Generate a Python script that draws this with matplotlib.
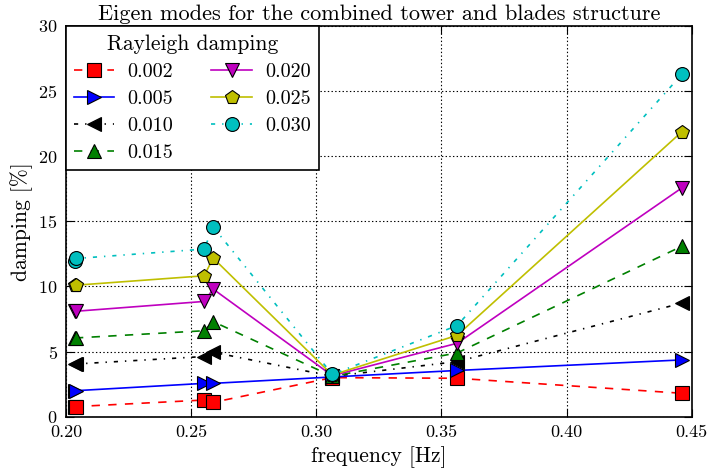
import numpy as np
import matplotlib
matplotlib.use('Agg')
import matplotlib.pyplot as plt

plt.rcParams['font.family'] = 'serif'
plt.rcParams['font.serif'] = ['cmr10', 'DejaVu Serif']
plt.rcParams['axes.formatter.use_mathtext'] = True
plt.rcParams['mathtext.fontset'] = 'cm'
# old-style dash patterns
plt.rcParams['lines.scale_dashes'] = False
plt.rcParams['lines.dashed_pattern'] = [6, 6]
plt.rcParams['lines.dashdot_pattern'] = [3, 5, 1, 5]

# eigen frequencies [Hz]
freq = [0.2036, 0.2042, 0.2552, 0.2588, 0.3064, 0.3563, 0.4460]

# damping [%] per Rayleigh damping coefficient
damp_0002 = [0.75, 0.78, 1.28, 1.10, 3.00, 2.95, 1.80]
damp_0005 = [2.00, 2.00, 2.56, 2.56, 3.05, 3.55, 4.36]
damp_0010 = [4.05, 4.05, 4.62, 4.95, 3.10, 4.23, 8.72]
damp_0015 = [6.03, 6.05, 6.60, 7.30, 3.10, 4.90, 13.08]
damp_0020 = [8.08, 8.10, 8.85, 9.80, 3.15, 5.64, 17.56]
damp_0025 = [10.08, 10.10, 10.82, 12.18, 3.20, 6.25, 21.87]
damp_0030 = [11.95, 12.15, 12.87, 14.57, 3.25, 7.00, 26.28]

labels = ['0.002', '0.005', '0.010', '0.015', '0.020', '0.025', '0.030']
series = [damp_0002, damp_0005, damp_0010, damp_0015, damp_0020, damp_0025, damp_0030]

colors = ['r', 'b', 'k', (0, 0.5, 0), (0.75, 0, 0.75), (0.75, 0.75, 0), (0, 0.75, 0.75)]
styles = ['--', '-', '-.', '--', '-', '-', '-.']
markers = ['s', '>', '<', '^', 'v', 'p', 'o']

fig = plt.figure(figsize=(7.08, 4.71), dpi=100)
ax = fig.add_axes([0.0932, 0.1153, 0.8838, 0.8295])

for y, lab, c, ls, m in zip(series, labels, colors, styles, markers):
    ax.plot(freq, y, linestyle=ls, color=c, marker=m, markersize=10,
            markeredgecolor='k', markeredgewidth=0.8, markerfacecolor=c,
            linewidth=1.2, label=lab)

ax.set_xlim(0.20, 0.45)
ax.set_ylim(0, 30)
ax.set_xticks(np.arange(0.20, 0.451, 0.05))
ax.set_xticklabels(['0.20', '0.25', '0.30', '0.35', '0.40', '0.45'])
ax.set_yticks([0, 5, 10, 15, 20, 25, 30])
ax.tick_params(direction='in', top=True, right=True, labelsize=13, length=6, pad=6)
ax.grid(True, color='k', linestyle=':', linewidth=0.8)
for s in ax.spines.values():
    s.set_linewidth(1.2)

ax.set_xlabel('frequency [Hz]', fontsize=15.5, labelpad=4)
ax.set_ylabel('damping [%]', fontsize=15.5, labelpad=4)
ax.set_title('Eigen modes for the combined tower and blades structure', fontsize=16, pad=4)

leg = ax.legend(loc='upper left', ncol=2, title='Rayleigh damping', fontsize=14.5,
                title_fontsize=15.5, fancybox=False, framealpha=1, borderaxespad=0,
                handlelength=2.0, handletextpad=0.65, numpoints=1, columnspacing=1.9,
                labelspacing=0.45, borderpad=0.4)
leg.get_frame().set_edgecolor('k')
leg.get_frame().set_linewidth(1.2)

fig.savefig('out.png', dpi=100)
